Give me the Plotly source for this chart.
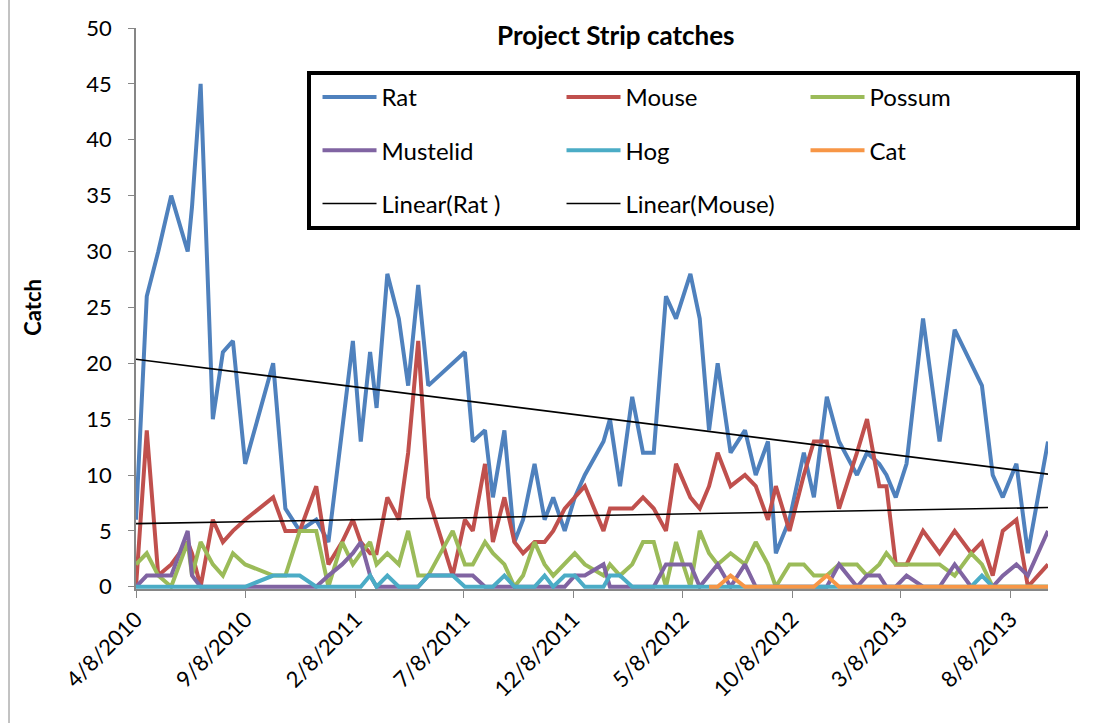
import numpy as np
import pandas as pd
import plotly.graph_objects as go

# Sampling dates for the Project Strip trap line
dates = [
    "2010-04-08", "2010-04-23", "2010-05-09", "2010-05-27", "2010-06-19", "2010-06-25", "2010-07-07", "2010-07-24", "2010-08-07", "2010-08-21",
    "2010-09-07", "2010-10-16", "2010-11-02", "2010-11-22", "2010-12-15", "2011-01-01", "2011-01-20", "2011-02-04", "2011-02-15", "2011-02-28",
    "2011-03-09", "2011-03-24", "2011-04-09", "2011-04-22", "2011-05-06", "2011-05-20", "2011-06-23", "2011-07-10", "2011-07-21", "2011-08-07",
    "2011-08-18", "2011-09-03", "2011-09-17", "2011-09-29", "2011-10-15", "2011-10-29", "2011-11-10", "2011-11-26", "2011-12-10", "2011-12-24",
    "2012-01-19", "2012-01-28", "2012-02-11", "2012-02-28", "2012-03-14", "2012-03-29", "2012-04-15", "2012-04-29", "2012-05-19", "2012-06-01",
    "2012-06-14", "2012-06-26", "2012-07-14", "2012-08-03", "2012-08-18", "2012-09-04", "2012-09-15", "2012-10-04", "2012-10-24", "2012-11-07",
    "2012-11-25", "2012-12-12", "2013-01-06", "2013-01-20", "2013-02-06", "2013-02-16", "2013-03-01", "2013-03-16", "2013-04-08", "2013-05-01",
    "2013-05-22", "2013-06-14", "2013-06-29", "2013-07-14", "2013-07-28", "2013-08-16", "2013-09-01", "2013-09-29",
]

rat = [6, 26, 30, 35, 30, 34, 45, 15, 21, 22,
       11, 20, 7, 5, 6, 4, 14, 22, 13, 21,
       16, 28, 24, 18, 27, 18, 20, 21, 13, 14,
       8, 14, 4, 6, 11, 6, 8, 5, 8, 10,
       13, 15, 9, 17, 12, 12, 26, 24, 28, 24,
       14, 20, 12, 14, 10, 13, 3, 6, 12, 8,
       17, 13, 10, 12, 11, 10, 8, 11, 24, 13,
       23, 20, 18, 10, 8, 11, 3, 13]

mouse = [0, 14, 1, 2, 4, 3, 0, 6, 4, 5,
         6, 8, 5, 5, 9, 2, 4, 6, 4, 3,
         3, 8, 6, 12, 22, 8, 1, 6, 5, 11,
         4, 8, 4, 3, 4, 4, 5, 7, 8, 9,
         5, 7, 7, 7, 8, 7, 5, 11, 8, 7,
         9, 12, 9, 10, 9, 6, 9, 5, 10, 13,
         13, 7, 12, 15, 9, 9, 2, 2, 5, 3,
         5, 3, 4, 1, 5, 6, 0, 2]

possum = [2, 3, 1, 0, 4, 1, 4, 2, 1, 3,
          2, 1, 1, 5, 5, 0, 4, 2, 3, 4,
          2, 3, 2, 5, 1, 1, 5, 2, 2, 4,
          3, 2, 0, 1, 4, 2, 1, 2, 3, 2,
          1, 2, 1, 2, 4, 4, 0, 4, 0, 5,
          3, 2, 3, 2, 4, 2, 0, 2, 2, 1,
          1, 2, 2, 1, 2, 3, 2, 2, 2, 2,
          1, 3, 2, 0, 0, 0, 0, 0]

mustelid = [0, 1, 1, 1, 5, 1, 0, 0, 0, 0,
            0, 0, 0, 0, 0, 1, 2, 3, 4, 1,
            0, 0, 0, 0, 0, 1, 1, 1, 1, 0,
            0, 0, 0, 0, 0, 0, 0, 0, 1, 1,
            2, 0, 0, 0, 0, 0, 2, 2, 2, 0,
            1, 2, 0, 2, 0, 0, 0, 0, 0, 0,
            0, 2, 0, 1, 1, 0, 0, 1, 0, 0,
            2, 0, 0, 0, 1, 2, 1, 5]

hog = [0, 0, 0, 0, 0, 0, 0, 0, 0, 0,
       0, 1, 1, 1, 0, 0, 0, 0, 0, 1,
       0, 1, 0, 0, 0, 1, 1, 0, 0, 0,
       0, 1, 0, 0, 0, 1, 0, 1, 1, 0,
       0, 1, 1, 0, 0, 0, 0, 0, 0, 0,
       0, 0, 0, 0, 0, 0, 0, 0, 0, 0,
       0, 0, 0, 0, 0, 0, 0, 0, 0, 0,
       0, 0, 1, 0, 0, 0, 0, 0]

# Cat catches were only recorded from June 2012 onwards
cat = [0, 0, 1, 0, 0, 0, 0, 0, 0, 0,
       1, 0, 0, 0, 0, 0, 0, 0, 0, 0,
       0, 0, 0, 0, 0, 0, 0, 0]
cat_dates = dates[-len(cat):]

series = [
    ("Rat", rat, dates, "#4F81BD"),
    ("Mouse", mouse, dates, "#C0504D"),
    ("Possum", possum, dates, "#9BBB59"),
    ("Mustelid", mustelid, dates, "#8064A2"),
    ("Hog", hog, dates, "#4BACC6"),
    ("Cat", cat, cat_dates, "#F79646"),
]
# legend entries in the last column get a wider slot so the box reaches further right
wide_slot = {"Possum", "Cat"}

FONT = "Lato, 'Open Sans', sans-serif"
x_dt = pd.to_datetime(dates)
days = (x_dt - x_dt[0]).days.values.astype(float)

fig = go.Figure()
for name, vals, xs, color in series:
    fig.add_trace(go.Scatter(
        x=xs, y=vals, name=name, mode="lines", legendgroup=name,
        legendwidth=201 if name in wide_slot else 175,
        line=dict(color=color, width=4),
    ))

# Least-squares linear trends for Rat and Mouse
for label, vals in [("Linear(Rat )", rat), ("Linear(Mouse)", mouse)]:
    slope, intercept = np.polyfit(days, np.array(vals, dtype=float), 1)
    ends = np.array([days[0], days[-1]])
    fig.add_trace(go.Scatter(
        x=[dates[0], dates[-1]], y=intercept + slope * ends, name=label,
        mode="lines", legendgroup=label, legendwidth=175,
        line=dict(color="black", width=1.6),
    ))

fig.update_layout(
    width=1095, height=723,
    margin=dict(l=136, r=47, t=28, b=134, autoexpand=False),
    paper_bgcolor="white", plot_bgcolor="white",
    font=dict(family=FONT, size=22, color="black"),
    showlegend=True,
    legend=dict(
        orientation="h", x=0.1875, y=0.9234, xanchor="left", yanchor="top",
        bgcolor="white", bordercolor="black", borderwidth=4,
        font=dict(family=FONT, size=24, color="black"),
        # a blank title on the left acts as inner padding before the first column
        title=dict(text="\u00a0", side="left", font=dict(family=FONT, size=2)),
        itemwidth=54, tracegroupgap=19, traceorder="grouped",
    ),
    xaxis=dict(
        type="date", range=[dates[0], dates[-1]],
        tick0=dates[0], dtick="M5", tickformat="%-m/%-d/%Y", tickangle=-45,
        showline=True, linecolor="#868686", linewidth=1.5,
        ticks="outside", ticklen=7, tickcolor="#868686",
        showgrid=False, zeroline=False, layer="below traces",
        tickfont=dict(family=FONT, size=22),
    ),
    yaxis=dict(
        range=[-0.2, 50], tick0=0, dtick=5,
        showline=True, linecolor="#868686", linewidth=1.5,
        ticks="outside", ticklen=6, tickcolor="#868686",
        showgrid=False, zeroline=False, layer="below traces",
        tickfont=dict(family=FONT, size=22), ticklabelstandoff=12,
    ),
    annotations=[
        dict(text="<b>Project Strip catches</b>", xref="paper", yref="paper",
             x=0.526, y=0.9875, xanchor="center", yanchor="middle",
             showarrow=False, font=dict(family=FONT, size=26)),
        dict(text="<b>Catch</b>", xref="paper", yref="paper",
             x=-0.113, y=0.503, xanchor="center", yanchor="middle",
             textangle=-90, showarrow=False, font=dict(family=FONT, size=22)),
    ],
    shapes=[
        # left edge of the chart frame
        dict(type="line", xref="paper", yref="paper",
             x0=(9 - 136) / 912, x1=(9 - 136) / 912, y0=-2, y1=2,
             line=dict(color="#868686", width=1)),
    ],
)

fig.write_html("out.html")
